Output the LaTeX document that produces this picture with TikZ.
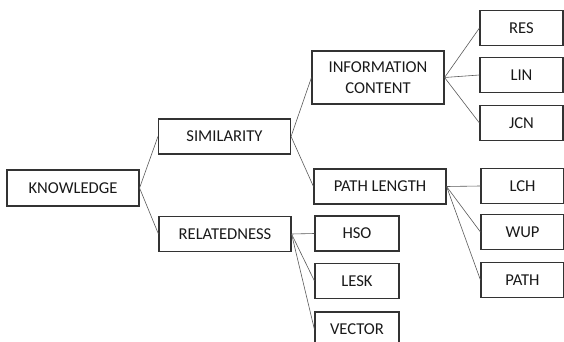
\documentclass[tikz,border=0pt]{standalone}
\usepackage{fontspec}
\setmainfont{Carlito}
\usepackage{tikz}
\usetikzlibrary{positioning}

\begin{document}
\begin{tikzpicture}[x=1pt,y=-1pt,
    box/.style={draw=black!80,line width=1.1pt,text=black!90,inner sep=0pt,align=center,
      font=\fontsize{16.6}{21}\selectfont,minimum width=132,minimum height=35},
    leaf/.style={box,minimum width=83},
    link/.style={draw=black!65,line width=0.6pt}]
    \useasboundingbox (0,0) rectangle (564,342);
    \clip (0,0) rectangle (564,342);
    % main branches
    \node[box,minimum height=36] (knowledge) at (73,188) {KNOWLEDGE};
    \node[box] (similarity) at (224.5,136.5) {SIMILARITY};
    \node[box] (relatedness) at (225,234) {RELATEDNESS};
    \node[box,minimum height=53] (info) at (378,77.5) {INFORMATION\\CONTENT};
    \node[box] (pathlen) at (380,186.5) {PATH LENGTH};
    \draw[link] (knowledge.east) -- (similarity.west);
    \draw[link] (knowledge.east) -- (relatedness.west);
    \draw[link] (similarity.east) -- (info.west);
    \draw[link] (similarity.east) -- (pathlen.west);
    % measures
    \foreach \name/\txt/\y in {res/RES/28,lin/LIN/75,jcn/JCN/123} {
      \node[leaf] (\name) at (521.5,\y) {\txt};
      \draw[link] (info.east) -- (\name.west);
    }
    \foreach \name/\txt/\y in {lch/LCH/186,wup/WUP/232,path/PATH/280} {
      \node[leaf] (\name) at (522.5,\y) {\txt};
      \draw[link] (pathlen.east) -- (\name.west);
    }
    \foreach \name/\txt/\y in {hso/HSO/233.5,lesk/LESK/281,vector/VECTOR/329.5} {
      \node[leaf,minimum width=84] (\name) at (357,\y) {\txt};
      \draw[link] (relatedness.east) -- (\name.west);
    }
  \end{tikzpicture}
\end{document}
